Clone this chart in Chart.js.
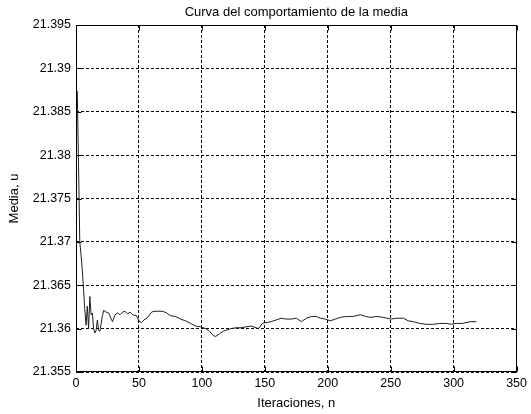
<!DOCTYPE html>
<html>
<head>
<meta charset="utf-8">
<script src="https://cdn.jsdelivr.net/npm/chart.js@4.4.1/dist/chart.umd.min.js"></script>
<style>
  html, body { margin: 0; padding: 0; background: #fff; }
  #wrap { width: 531px; height: 414px; }
</style>
</head>
<body>
<div id="wrap"><canvas id="grafica" width="531" height="414"></canvas></div>
<script>
// datos
const iterN = [1, 2, 3, 4, 5, 6, 7, 8, 9, 10, 11, 12, 13, 14, 15, 16, 17, 18, 19, 20,
  21, 22, 24, 26, 28, 29, 31, 33, 35, 37, 39, 41, 43, 45, 48, 50, 52, 54, 57, 60,
  62, 65, 69, 72, 75, 79, 83, 87, 91, 95, 99, 103, 106, 109, 111, 114, 117, 119, 123, 127,
  131, 135, 139, 143, 145, 148, 151, 155, 159, 163, 167, 171, 175, 179, 183, 187, 191, 194, 198, 202,
  206, 210, 215, 220, 226, 230, 234, 239, 244, 250, 255, 260, 264, 268, 273, 278, 284, 289, 294, 298,
  302, 307, 313, 318];
const mediaU = [21.3874, 21.3790, 21.3700, 21.3685, 21.3668, 21.3645, 21.3622, 21.3604, 21.3626, 21.3600,
  21.3637, 21.3616, 21.3618, 21.3600, 21.3595, 21.3598, 21.3610, 21.3598, 21.3597, 21.3606,
  21.3615, 21.3621, 21.3619, 21.3618, 21.3611, 21.3608, 21.3616, 21.3618, 21.3616, 21.3619,
  21.3620, 21.3617, 21.3619, 21.3616, 21.3615, 21.3609, 21.3607, 21.3610, 21.3613, 21.3619,
  21.3620, 21.3620, 21.3620, 21.3618, 21.3615, 21.3614, 21.3611, 21.3609, 21.3606, 21.3603,
  21.3602, 21.3600, 21.3597, 21.3592, 21.3591, 21.3594, 21.3597, 21.3598, 21.3600, 21.3601,
  21.3601, 21.3602, 21.3603, 21.3601, 21.3600, 21.3606, 21.3607, 21.3608, 21.3610, 21.3612,
  21.3611, 21.3611, 21.3612, 21.3608, 21.3612, 21.3614, 21.3614, 21.3612, 21.3611, 21.3609,
  21.3611, 21.3613, 21.3614, 21.3614, 21.3616, 21.3614, 21.3613, 21.3614, 21.3613, 21.3611,
  21.3612, 21.3612, 21.3609, 21.3608, 21.3606, 21.3605, 21.3605, 21.3606, 21.3606, 21.3605,
  21.3606, 21.3606, 21.3608, 21.3608];

const xMin = 0, xMax = 350, xStep = 50;
const yMin = 21.355, yMax = 21.395, yStep = 0.005;

const titulo = 'Curva del comportamiento de la media';
const tituloX = 'Iteraciones, n';
const tituloY = 'Media, u';

const fuenteTicks = { family: '"Liberation Sans", Arial, sans-serif', size: 12.5 };
const fuenteTitulos = { family: '"Liberation Sans", Arial, sans-serif', size: 13 };

// caja y marcas hacia adentro, estilo matlab
const cajaPlugin = {
  id: 'caja',
  afterDraw(chart) {
    const { ctx, chartArea: a, scales } = chart;
    const l = Math.round(a.left) + 0.5, r = Math.round(a.right) - 0.5;
    const t = Math.round(a.top) + 0.5, b = Math.round(a.bottom) - 0.5;
    ctx.save();
    ctx.strokeStyle = '#000';
    ctx.lineWidth = 1;
    ctx.setLineDash([]);
    ctx.strokeRect(l, t, r - l, b - t);
    ctx.beginPath();
    scales.x.ticks.forEach(tk => {
      const px = Math.round(scales.x.getPixelForValue(tk.value)) + 0.5;
      ctx.moveTo(px, b); ctx.lineTo(px, b - 5);
      ctx.moveTo(px, t); ctx.lineTo(px, t + 5);
    });
    scales.y.ticks.forEach(tk => {
      const py = Math.round(scales.y.getPixelForValue(tk.value)) + 0.5;
      ctx.moveTo(l, py); ctx.lineTo(l + 5, py);
      ctx.moveTo(r, py); ctx.lineTo(r - 5, py);
    });
    ctx.stroke();
    ctx.restore();
  }
};

const ctx = document.getElementById('grafica').getContext('2d');
const chart = new Chart(ctx, {
  type: 'line',
  data: {
    datasets: [{
      label: tituloY,
      data: iterN.map((n, i) => ({ x: n, y: mediaU[i] })),
      borderColor: 'rgb(30,30,30)',
      borderWidth: 1,
      pointRadius: 0,
      tension: 0,
      fill: false
    }]
  },
  options: {
    responsive: false,
    animation: false,
    events: [],
    layout: { padding: { left: 0, right: 14, top: 0, bottom: 0 } },
    plugins: {
      legend: { display: false },
      tooltip: { enabled: false },
      title: {
        display: true,
        fullSize: false,
        text: titulo,
        color: '#000',
        font: { ...fuenteTitulos, weight: 'normal' },
        padding: { top: 4.5, bottom: 4.9 }
      }
    },
    scales: {
      x: {
        type: 'linear',
        min: xMin, max: xMax,
        afterFit(s) { s.height = 42; },
        ticks: {
          stepSize: xStep,
          color: '#000',
          font: fuenteTicks,
          padding: 4,
          maxRotation: 0
        },
        grid: { color: '#000', lineWidth: 1, drawTicks: false },
        border: { display: false, dash: [3, 2] },
        title: { display: true, text: tituloX, color: '#000', font: fuenteTitulos, padding: { top: 0, bottom: 3 } }
      },
      y: {
        type: 'linear',
        min: yMin, max: yMax,
        afterFit(s) { s.width = 76; },
        ticks: {
          stepSize: yStep,
          color: '#000',
          font: fuenteTicks,
          padding: 5,
          callback: v => parseFloat(v.toFixed(3)).toString()
        },
        grid: { color: '#000', lineWidth: 1, drawTicks: false },
        border: { display: false, dash: [3, 2] },
        title: { display: true, text: tituloY, color: '#000', font: fuenteTitulos, padding: { top: 7, bottom: 0 } }
      }
    }
  },
  plugins: [cajaPlugin]
});
</script>
</body>
</html>
